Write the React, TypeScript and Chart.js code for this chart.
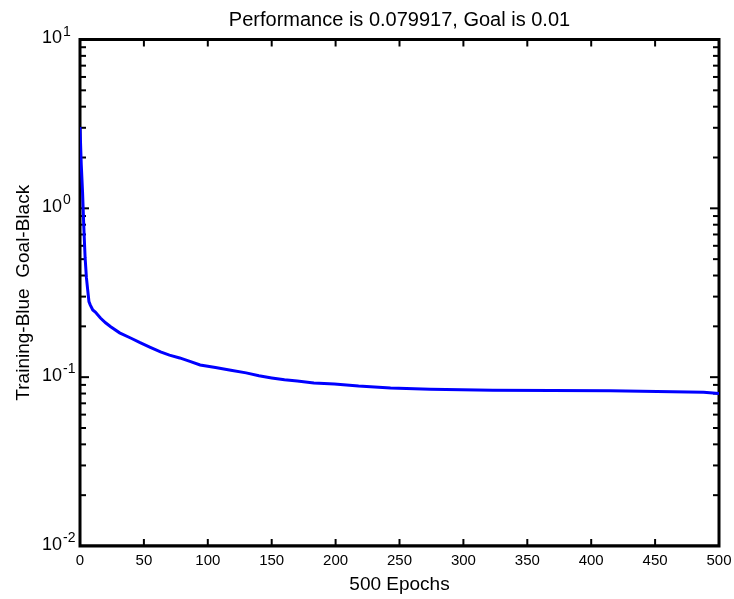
import React, { useEffect, useRef } from "react";
import { Chart, registerables } from "chart.js";

Chart.register(...registerables);

// ---- data ----
const epochs = [0, 1, 2, 3, 4, 5, 6, 7, 8, 10, 12, 16, 20, 24, 31, 40, 47, 55, 63, 70, 78, 86, 94, 106, 118, 130, 140, 150, 160, 170, 183, 199, 218, 243, 274, 323, 415, 488, 500];
const trainingPerf = [3.03, 1.81, 1.25, 0.77, 0.51, 0.39, 0.33, 0.28, 0.268, 0.25, 0.243, 0.224, 0.21, 0.199, 0.183, 0.17, 0.16, 0.15, 0.141, 0.135, 0.13, 0.124, 0.118, 0.114, 0.11, 0.106, 0.102, 0.099, 0.0964, 0.095, 0.0925, 0.0912, 0.0887, 0.0864, 0.0847, 0.0836, 0.083, 0.0815, 0.0799];
const goalEpochs = [0, 500];
const goalValue = 0.01;
const xTickValues = [0, 50, 100, 150, 200, 250, 300, 350, 400, 450, 500];
const yDecadeValues = [10, 1, 0.1, 0.01];
const yDecadeExponents = ["1", "0", "-1", "-2"];
const titleText = "Performance is 0.079917, Goal is 0.01";
const xAxisLabel = "500 Epochs";
const yAxisLabel = "Training-Blue  Goal-Black";

const FONT = "'Liberation Sans', Arial, Helvetica, sans-serif";

const framePlugin = {
  id: "matlabFrame",
  beforeDatasetsDraw(chart: any) {
    const { ctx, chartArea: a, scales } = chart;
    const xs = scales.x;
    const ys = scales.y;
    ctx.save();
    ctx.strokeStyle = "#000";
    ctx.lineWidth = 3;
    ctx.strokeRect(a.left, a.top, a.right - a.left, a.bottom - a.top);
    const seg = (x1: number, y1: number, x2: number, y2: number) => {
      ctx.beginPath();
      ctx.moveTo(x1, y1);
      ctx.lineTo(x2, y2);
      ctx.stroke();
    };
    ctx.lineWidth = 2;
    for (const v of xTickValues) {
      const px = xs.getPixelForValue(v);
      seg(px, a.bottom, px, a.bottom - 7);
      seg(px, a.top, px, a.top + 7);
    }
    const minExp = Math.round(Math.log10(ys.min));
    const maxExp = Math.round(Math.log10(ys.max));
    for (let e = minExp; e <= maxExp; e++) {
      for (let m = 1; m <= 9; m++) {
        if (e === maxExp && m > 1) break;
        const v = m * Math.pow(10, e);
        const py = ys.getPixelForValue(v);
        const len = m === 1 ? 9 : 6;
        seg(a.left, py, a.left + len, py);
        seg(a.right, py, a.right - len, py);
      }
    }
    // y decade labels with superscript exponents
    ctx.fillStyle = "#000";
    yDecadeValues.forEach((v, i) => {
      const py = ys.getPixelForValue(v);
      ctx.font = `18px ${FONT}`;
      ctx.textAlign = "right";
      ctx.textBaseline = "middle";
      ctx.fillText("10", a.left - 18, py - 1);
      ctx.font = `14px ${FONT}`;
      ctx.textAlign = "left";
      ctx.textBaseline = "alphabetic";
      ctx.fillText(yDecadeExponents[i], a.left - 17, py - 4);
    });
    ctx.restore();
  },
};

export default function App() {
  const canvasRef = useRef<HTMLCanvasElement | null>(null);

  useEffect(() => {
    const canvas = canvasRef.current;
    if (!canvas) return;
    Chart.defaults.font.family = FONT;
    Chart.defaults.color = "#000";
    const chart = new Chart(canvas, {
      type: "line",
      data: {
        datasets: [
          {
            label: "Training",
            data: epochs.map((e, i) => ({ x: e, y: trainingPerf[i] })),
            borderColor: "#0000ff",
            backgroundColor: "#0000ff",
            borderWidth: 3,
            pointRadius: 0,
            tension: 0,
          },
          {
            label: "Goal",
            data: goalEpochs.map((e) => ({ x: e, y: goalValue })),
            borderColor: "#000000",
            backgroundColor: "#000000",
            borderWidth: 3,
            pointRadius: 0,
            tension: 0,
          },
        ],
      },
      options: {
        responsive: false,
        animation: false,
        devicePixelRatio: 1,
        layout: { padding: { left: 0, right: 15, top: 0, bottom: 0 } },
        plugins: {
          legend: { display: false },
          tooltip: { enabled: false },
          title: {
            display: true,
            fullSize: false,
            text: titleText,
            color: "#000",
            font: { size: 20, weight: "normal", family: FONT },
            padding: { top: 8.5, bottom: 7 },
          },
        },
        scales: {
          x: {
            type: "linear",
            min: 0,
            max: 500,
            grid: { display: false, drawTicks: false },
            border: { display: false },
            ticks: {
              stepSize: 50,
              autoSkip: false,
              maxRotation: 0,
              color: "#000",
              padding: 6,
              font: { size: 15, family: FONT },
              callback: (v: any) => String(v),
            },
            title: {
              display: true,
              text: xAxisLabel,
              color: "#000",
              font: { size: 19, family: FONT },
              padding: { top: 0, bottom: 3 },
            },
            afterFit: (s: any) => {
              s.height = 53;
              s.paddingLeft = 0;
              s.paddingRight = 0;
            },
          },
          y: {
            type: "logarithmic",
            min: 0.01,
            max: 10,
            grid: { display: false, drawTicks: false },
            border: { display: false },
            ticks: { display: false },
            title: {
              display: true,
              text: yAxisLabel,
              color: "#000",
              font: { size: 19, family: FONT },
              padding: { top: 12, bottom: 0 },
            },
            afterFit: (s: any) => {
              s.width = 80;
              s.paddingTop = 0;
              s.paddingBottom = 0;
            },
          },
        },
      },
      plugins: [framePlugin],
    } as any);
    return () => chart.destroy();
  }, []);

  return (
    <div style={{ position: "fixed", left: 0, top: 0, width: 734, height: 599, background: "#fff" }}>
      <canvas ref={canvasRef} width={734} height={599} style={{ display: "block" }} />
    </div>
  );
}
